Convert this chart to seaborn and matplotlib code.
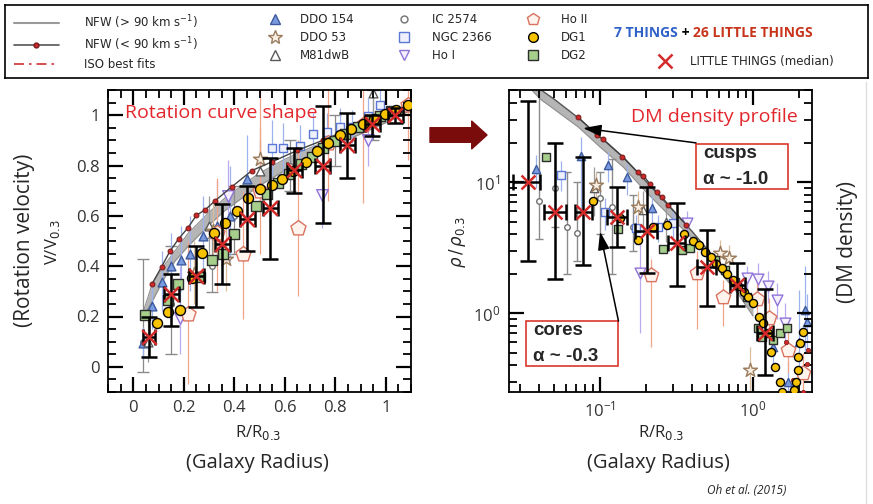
import matplotlib
matplotlib.use("Agg")
import numpy as np
import matplotlib.pyplot as plt
import matplotlib.patches as mpatches
from matplotlib.lines import Line2D
from matplotlib.ticker import MultipleLocator, LogLocator, NullFormatter, FuncFormatter
import seaborn as sns

# ---------------- left panel : rotation curves (R/R0.3, V/V0.3) ----------------
nfw_r_left = [0.04, 0.072, 0.12, 0.165, 0.217, 0.296, 0.362, 0.43, 0.5, 0.6, 0.7, 0.8, 0.9, 1.0, 1.1]
nfw_lo_left = [0.20, 0.254, 0.347, 0.42, 0.479, 0.56, 0.62, 0.67, 0.72, 0.78, 0.83, 0.88, 0.925, 0.97, 1.02]
nfw_hi_left = [0.22, 0.32, 0.40, 0.46, 0.53, 0.61, 0.67, 0.72, 0.77, 0.825, 0.87, 0.91, 0.95, 0.99, 1.04]

nfw90_r_left = [0.075, 0.112, 0.145, 0.18, 0.217, 0.25, 0.286, 0.323, 0.391, 0.47, 0.55, 0.65, 0.75, 0.87, 1.0, 1.1]
nfw90_v_left = [0.331, 0.397, 0.459, 0.509, 0.553, 0.602, 0.625, 0.659, 0.716, 0.78, 0.815, 0.86, 0.90, 0.95, 1.0, 1.035]

lt_r_left = [0.062, 0.151, 0.25, 0.352, 0.452, 0.542, 0.638, 0.75, 0.847, 0.947, 1.038]
lt_v_left = [0.118, 0.29, 0.36, 0.49, 0.588, 0.632, 0.781, 0.80, 0.88, 0.964, 1.0]
lt_lo_left = [0.041, 0.161, 0.236, 0.329, 0.459, 0.43, 0.692, 0.57, 0.752, 0.918, 0.97]
lt_hi_left = [0.198, 0.369, 0.479, 0.649, 0.72, 0.83, 0.871, 1.035, 1.01, 1.0, 1.03]
lt_rerr_left = [0.025, 0.03, 0.03, 0.03, 0.03, 0.03, 0.03, 0.03, 0.03, 0.03, 0.03]

dg1_r_left = [0.095, 0.138, 0.185, 0.233, 0.274, 0.32, 0.365, 0.411, 0.455, 0.502, 0.548, 0.59, 0.634,
              0.684, 0.726, 0.772, 0.818, 0.864, 0.908, 0.954, 0.996, 1.042, 1.088]
dg1_v_left = [0.174, 0.216, 0.224, 0.353, 0.453, 0.533, 0.572, 0.619, 0.672, 0.705, 0.722, 0.748, 0.78,
              0.814, 0.858, 0.891, 0.92, 0.947, 0.964, 0.984, 1.004, 1.021, 1.04]

dg2_r_left = [0.046, 0.136, 0.178, 0.264, 0.31, 0.356, 0.398, 0.487, 0.528, 0.575, 0.618, 0.664, 0.707,
              0.753, 0.80, 0.84, 0.889, 0.934, 0.978, 1.02]
dg2_v_left = [0.207, 0.264, 0.331, 0.357, 0.426, 0.45, 0.529, 0.641, 0.686, 0.732, 0.765, 0.805, 0.834,
              0.871, 0.898, 0.924, 0.951, 0.977, 0.997, 1.015]

ddo154_r_left = [0.04, 0.076, 0.112, 0.151, 0.191, 0.226, 0.277, 0.33, 0.383, 0.45]
ddo154_v_left = [0.094, 0.24, 0.337, 0.40, 0.426, 0.45, 0.52, 0.56, 0.60, 0.745]
ddo154_lo_left = [0.03, 0.15, 0.22, 0.27, 0.30, 0.30, 0.38, 0.42, 0.42, 0.56]
ddo154_hi_left = [0.16, 0.33, 0.46, 0.53, 0.56, 0.60, 0.68, 0.74, 0.80, 0.92]

ddo53_r_left = [0.24, 0.317, 0.367, 0.50]
ddo53_v_left = [0.37, 0.54, 0.427, 0.825]
ddo53_lo_left = [0.25, 0.42, 0.30, 0.70]
ddo53_hi_left = [0.50, 0.66, 0.56, 0.95]

m81_r_left = [0.06, 0.30, 0.50, 0.95]
m81_v_left = [0.10, 0.56, 0.78, 1.09]
m81_lo_left = [0.02, 0.45, 0.66, 0.98]
m81_hi_left = [0.20, 0.68, 0.90, 1.12]

ic2574_r_left = [0.04, 0.15, 0.31, 0.40, 0.62, 0.80, 0.95]
ic2574_v_left = [0.10, 0.25, 0.40, 0.60, 0.80, 0.90, 0.97]
ic2574_lo_left = [-0.02, 0.05, 0.297, 0.45, 0.70, 0.80, 0.90]
ic2574_hi_left = [0.43, 0.48, 0.51, 0.72, 0.90, 1.00, 1.10]

ngc2366_r_left = [0.548, 0.594, 0.66, 0.71, 0.766, 0.82, 0.868, 0.93, 0.978]
ngc2366_v_left = [0.871, 0.871, 0.878, 0.924, 0.934, 0.953, 0.953, 0.997, 1.04]
ngc2366_lo_left = [0.76, 0.77, 0.80, 0.84, 0.86, 0.88, 0.89, 0.93, 0.98]
ngc2366_hi_left = [0.98, 0.97, 0.96, 1.01, 1.01, 1.03, 1.02, 1.07, 1.10]

hoi_r_left = [0.185, 0.374, 0.746, 0.93]
hoi_v_left = [0.195, 0.679, 0.681, 0.90]
hoi_lo_left = [0.05, 0.52, 0.55, 0.80]
hoi_hi_left = [0.40, 0.82, 0.80, 0.98]

hoii_r_left = [0.218, 0.33, 0.436, 0.5, 0.654, 0.77, 0.91, 1.09]
hoii_v_left = [0.208, 0.53, 0.45, 0.70, 0.55, 0.89, 0.96, 1.04]
hoii_lo_left = [-0.07, 0.30, 0.19, 0.45, 0.28, 0.66, 0.65, 0.82]
hoii_hi_left = [0.50, 0.75, 0.70, 1.10, 0.90, 1.10, 1.10, 1.10]

# ---------------- right panel : density profiles (R/R0.3, rho/rho0.3) ----------------
nfw_r_right = [0.036, 0.0406, 0.05, 0.0723, 0.1, 0.142, 0.2, 0.3, 0.4, 0.6, 0.8, 1.0]
nfw_hi_right = [58, 51, 43, 30.8, 22.1, 15.5, 10.1, 6.07, 4.2, 2.4, 1.6, 1.1]
nfw_lo_right = [50, 43, 36, 26.2, 18.5, 13.0, 8.4, 5.2, 3.7, 2.1, 1.4, 0.95]

nfw90_r_right = [0.0714, 0.095, 0.105, 0.14, 0.176, 0.192, 0.212, 0.235, 0.253, 0.28, 0.367]
nfw90_rho_right = [31.5, 22.9, 21.2, 15.6, 11.9, 11.2, 9.66, 8.34, 7.73, 6.67, 4.7]
nfw90_tail_r = [1.64, 1.83, 2.13, 2.24, 2.29]
nfw90_tail_rho = [0.60, 0.308, 0.25, 0.41, 0.52]

lt_r_right = [0.0336, 0.0508, 0.0778, 0.1285, 0.2018, 0.317, 0.497, 0.789, 1.197]
lt_rho_right = [10.05, 5.93, 5.93, 5.43, 4.25, 3.40, 2.26, 1.64, 0.708]
lt_lo_right = [2.49, 1.82, 2.32, 3.21, 2.02, 1.61, 1.13, 1.13, 0.336]
lt_hi_right = [41.5, 19.7, 15.6, 9.2, 9.1, 6.95, 4.3, 2.4, 1.52]
lt_rmin_right = [0.0271, 0.0432, 0.0687, 0.111, 0.169, 0.278, 0.43, 0.708, 1.057]
lt_rmax_right = [0.0406, 0.0597, 0.089, 0.149, 0.235, 0.36, 0.573, 0.887, 1.36]

dg1_r_right = [0.0904, 0.136, 0.178, 0.223, 0.273, 0.356, 0.407, 0.446, 0.486, 0.529, 0.573, 0.624, 0.679,
               0.743, 0.802, 0.873, 0.932, 1.0, 1.10, 1.16, 1.25, 1.32, 1.39, 1.49, 1.54,
               1.85, 1.91, 1.98, 1.98, 2.03, 2.13]
dg1_rho_right = [7.2, 5.28, 3.61, 4.56, 4.70, 4.01, 3.56, 3.30, 2.94, 2.66, 2.39, 2.19, 1.99,
                 1.79, 1.61, 1.45, 1.32, 1.19, 0.94, 0.834, 0.70, 0.507, 0.389, 0.299, 0.251,
                 0.258, 0.299, 0.367, 0.464, 0.587, 0.72]

dg2_r_right = [0.0444, 0.132, 0.259, 0.342, 0.387, 0.565, 0.656, 0.763, 0.91, 1.08, 1.14, 1.36, 1.50, 1.66]
dg2_rho_right = [15.4, 4.35, 3.08, 3.03, 3.16, 2.54, 2.13, 1.73, 1.33, 0.764, 0.659, 0.622, 0.70, 0.764]

ddo154_r_right = [0.0382, 0.0752, 0.112, 0.149, 0.218, 1.35, 1.7, 2.0, 2.2, 2.25]
ddo154_rho_right = [12.5, 15.9, 13.5, 11.0, 6.3, 0.55, 0.30, 0.60, 1.05, 0.86]
ddo154_lo_right = [9.0, 6.0, 10.0, 8.0, 4.5, 0.40, 0.22, 0.30, 0.50, 0.50]
ddo154_hi_right = [16.0, 22.0, 17.0, 14.0, 8.0, 0.75, 0.42, 1.50, 2.30, 1.40]

ddo53_r_right = [0.0938, 0.178, 0.608, 0.70, 0.955]
ddo53_rho_right = [9.5, 6.48, 2.86, 2.62, 0.367]
ddo53_lo_right = [7.0, 4.5, 2.2, 2.0, 0.25]
ddo53_hi_right = [12.0, 8.5, 3.6, 3.3, 0.55]

m81_r_right = [0.0918, 0.19, 0.27]
m81_rho_right = [8.95, 6.1, 5.0]
m81_lo_right = [5.5, 4.0, 3.5]
m81_hi_right = [13.0, 8.5, 6.5]

ic2574_r_right = [0.0401, 0.0508, 0.0605, 0.0704, 0.1, 0.119, 0.163]
ic2574_rho_right = [7.16, 8.95, 4.56, 4.06, 7.5, 6.48, 4.56]
ic2574_lo_right = [3.7, 4.5, 2.0, 2.5, 4.0, 2.0, 3.0]
ic2574_hi_right = [50.0, 20.0, 12.0, 10.0, 12.0, 15.0, 8.0]

ngc2366_r_right = [0.0556, 0.107, 0.171, 0.24, 0.30]
ngc2366_rho_right = [11.3, 5.87, 4.43, 4.5, 4.9]
ngc2366_lo_right = [8.5, 4.3, 3.3, 3.5, 3.8]
ngc2366_hi_right = [14.5, 7.5, 5.6, 5.6, 6.0]

hoi_r_right = [0.182, 0.369, 0.91, 1.08, 1.26, 1.43, 1.62]
hoi_rho_right = [2.01, 4.89, 1.84, 1.81, 1.61, 1.26, 0.843]
hoi_lo_right = [0.7, 3.8, 1.4, 1.3, 1.2, 0.9, 0.6]
hoi_hi_right = [3.5, 6.0, 2.3, 2.4, 2.1, 1.7, 1.2]

hoii_r_right = [0.214, 0.428, 0.634, 1.057, 1.28, 1.70, 2.13]
hoii_rho_right = [1.95, 2.03, 1.33, 1.29, 0.91, 0.522, 0.347]
hoii_lo_right = [0.55, 0.75, 0.80, 0.90, 0.60, 0.35, 0.25]
hoii_hi_right = [2.6, 3.0, 1.8, 1.7, 1.3, 0.75, 0.5]

# ---------------- styling ----------------
sns.set_style("ticks")
plt.rcParams['font.family'] = ['Open Sans', 'DejaVu Sans']
plt.rcParams['mathtext.fontset'] = 'dejavusans'
plt.rcParams['axes.axisbelow'] = False

RED = '#d42a2a'
C_DDO154 = ('#7a9be0', '#3d5a9e', '#9db3ee')
C_DDO53 = ('#f8eee2', '#9a7b5c', '#dcbc9c')
C_M81 = ('white', '#5a5a5a', '#9a9a9a')
C_IC = ('white', '#707070', '#8a8a8a')
C_NGC = ('#eef1fb', '#5b78d6', '#9db3ee')
C_HOI = ('#f4f0fd', '#8f74d8', '#bba9f0')
C_HOII = ('#fff3ee', '#d9735f', '#f2a488')
C_DG1 = '#f7c200'
C_DG2 = '#a6cf8c'


def galaxy(ax, r, v, lo, hi, marker, s, cols, z=3, lw=0.9, cap=0):
    r, v, lo, hi = map(np.asarray, (r, v, lo, hi))
    ax.errorbar(r, v, yerr=[v - lo, hi - v], fmt='none', ecolor=cols[2], elinewidth=lw,
                capsize=cap, zorder=z - 0.5)
    sns.scatterplot(x=r, y=v, marker=marker, s=s, color=cols[0], edgecolor=cols[1],
                    linewidth=1.0, ax=ax, zorder=z, legend=False)


fig = plt.figure(figsize=(8.73, 5.04), dpi=100)
axL = fig.add_axes([108 / 873, 1 - 392 / 504, 303 / 873, 302 / 504])
axR = fig.add_axes([509 / 873, 1 - 392 / 504, 303 / 873, 302 / 504])
axR.set_xscale('log')
axR.set_yscale('log')

# ---- left panel ----
ax = axL
ax.fill_between(nfw_r_left, nfw_lo_left, nfw_hi_left, color='#b5b5b5', lw=0, zorder=1)
sns.lineplot(x=nfw_r_left, y=nfw_lo_left, color='#8e8e8e', lw=0.8, ax=ax, zorder=1.1, estimator=None, sort=False)
sns.lineplot(x=nfw_r_left, y=nfw_hi_left, color='#8e8e8e', lw=0.8, ax=ax, zorder=1.1, estimator=None, sort=False)
galaxy(ax, ic2574_r_left, ic2574_v_left, ic2574_lo_left, ic2574_hi_left, 'o', 16, C_IC, z=2, cap=4)
galaxy(ax, ddo154_r_left, ddo154_v_left, ddo154_lo_left, ddo154_hi_left, '^', 40, C_DDO154, z=2.2)
galaxy(ax, m81_r_left, m81_v_left, m81_lo_left, m81_hi_left, '^', 40, C_M81, z=2.2)
galaxy(ax, ngc2366_r_left, ngc2366_v_left, ngc2366_lo_left, ngc2366_hi_left, 's', 40, C_NGC, z=2.2)
galaxy(ax, ddo53_r_left, ddo53_v_left, ddo53_lo_left, ddo53_hi_left, '*', 110, C_DDO53, z=2.3)
galaxy(ax, hoi_r_left, hoi_v_left, hoi_lo_left, hoi_hi_left, 'v', 70, C_HOI, z=2.3)
galaxy(ax, hoii_r_left, hoii_v_left, hoii_lo_left, hoii_hi_left, 'p', 130, C_HOII, z=2.4)
sns.lineplot(x=nfw90_r_left, y=nfw90_v_left, color='#444444', lw=1.0, marker='o', markersize=3.5,
             markerfacecolor='#cc2a2a', markeredgecolor='#7a1a1a', ax=ax, zorder=3, estimator=None, sort=False)
sns.scatterplot(x=dg2_r_left, y=dg2_v_left, marker='s', s=50, color=C_DG2, edgecolor='#2d2d2d',
                linewidth=1.0, ax=ax, zorder=4, legend=False)
sns.scatterplot(x=dg1_r_left, y=dg1_v_left, marker='o', s=52, color=C_DG1, edgecolor='black',
                linewidth=1.0, ax=ax, zorder=4.2, legend=False)
v = np.asarray(lt_v_left)
ax.errorbar(lt_r_left, v, yerr=[v - np.asarray(lt_lo_left), np.asarray(lt_hi_left) - v], xerr=lt_rerr_left,
            fmt='none', ecolor='black', elinewidth=1.8, capsize=6, capthick=1.8, zorder=5)
sns.scatterplot(x=lt_r_left, y=lt_v_left, marker='x', s=110, color=RED, linewidth=1.8, ax=ax, zorder=6,
                legend=False)
ax.set_xlim(-0.1, 1.1)
ax.set_ylim(-0.1, 1.1)
ax.xaxis.set_major_locator(MultipleLocator(0.2))
ax.xaxis.set_minor_locator(MultipleLocator(0.05))
ax.yaxis.set_major_locator(MultipleLocator(0.2))
ax.yaxis.set_minor_locator(MultipleLocator(0.05))
fmt = FuncFormatter(lambda val, pos: f"{val:.1f}".rstrip('0').rstrip('.') if abs(val) > 1e-9 else "0")
ax.xaxis.set_major_formatter(fmt)
ax.yaxis.set_major_formatter(fmt)
ax.text(0.056, 0.924, "Rotation curve shape", transform=ax.transAxes, color='#e3262b', fontsize=14,
        ha='left', va='center', zorder=7)

# ---- right panel ----
ax = axR
ax.fill_between(nfw_r_right, nfw_lo_right, nfw_hi_right, color='#b5b5b5', lw=0, zorder=1)
sns.lineplot(x=nfw_r_right, y=nfw_lo_right, color='#8e8e8e', lw=0.8, ax=ax, zorder=1.1, estimator=None, sort=False)
sns.lineplot(x=nfw_r_right, y=nfw_hi_right, color='#555555', lw=1.0, ax=ax, zorder=1.1, estimator=None, sort=False)
galaxy(ax, ic2574_r_right, ic2574_rho_right, ic2574_lo_right, ic2574_hi_right, 'o', 16, C_IC, z=2, lw=1.0, cap=3)
galaxy(ax, ddo154_r_right, ddo154_rho_right, ddo154_lo_right, ddo154_hi_right, '^', 35, C_DDO154, z=2.2)
galaxy(ax, m81_r_right, m81_rho_right, m81_lo_right, m81_hi_right, '^', 35, C_M81, z=2.2)
galaxy(ax, ngc2366_r_right, ngc2366_rho_right, ngc2366_lo_right, ngc2366_hi_right, 's', 35, C_NGC, z=2.2)
galaxy(ax, ddo53_r_right, ddo53_rho_right, ddo53_lo_right, ddo53_hi_right, '*', 110, C_DDO53, z=2.3)
galaxy(ax, hoi_r_right, hoi_rho_right, hoi_lo_right, hoi_hi_right, 'v', 60, C_HOI, z=2.3)
galaxy(ax, hoii_r_right, hoii_rho_right, hoii_lo_right, hoii_hi_right, 'p', 120, C_HOII, z=2.4)
sns.lineplot(x=nfw90_r_right, y=nfw90_rho_right, color='#444444', lw=1.0, marker='o', markersize=3.5,
             markerfacecolor='#cc2a2a', markeredgecolor='#7a1a1a', ax=ax, zorder=3, estimator=None, sort=False)
sns.scatterplot(x=nfw90_tail_r, y=nfw90_tail_rho, marker='o', s=10, color='#cc2a2a', edgecolor='#7a1a1a',
                linewidth=0.5, ax=ax, zorder=3, legend=False)
sns.scatterplot(x=dg2_r_right, y=dg2_rho_right, marker='s', s=40, color=C_DG2, edgecolor='#2d2d2d',
                linewidth=1.0, ax=ax, zorder=4, legend=False)
sns.scatterplot(x=dg1_r_right, y=dg1_rho_right, marker='o', s=34, color=C_DG1, edgecolor='black',
                linewidth=1.0, ax=ax, zorder=4.2, legend=False)
rho = np.asarray(lt_rho_right)
rr = np.asarray(lt_r_right)
ax.errorbar(rr, rho, yerr=[rho - np.asarray(lt_lo_right), np.asarray(lt_hi_right) - rho],
            xerr=[rr - np.asarray(lt_rmin_right), np.asarray(lt_rmax_right) - rr],
            fmt='none', ecolor='black', elinewidth=1.8, capsize=6, capthick=1.8, zorder=5)
sns.scatterplot(x=lt_r_right, y=lt_rho_right, marker='x', s=100, color=RED, linewidth=1.8, ax=ax, zorder=6,
                legend=False)
ax.set_xlim(0.0254, 2.43)
ax.set_ylim(0.25, 50.4)
ax.xaxis.set_major_locator(LogLocator(base=10, numticks=10))
ax.xaxis.set_minor_locator(LogLocator(base=10, subs=np.arange(2, 10), numticks=20))
ax.yaxis.set_major_locator(LogLocator(base=10, numticks=10))
ax.yaxis.set_minor_locator(LogLocator(base=10, subs=np.arange(2, 10), numticks=20))
ax.xaxis.set_minor_formatter(NullFormatter())
ax.yaxis.set_minor_formatter(NullFormatter())
ax.text(0.954, 0.911, "DM density profile", transform=ax.transAxes, color='#e3262b', fontsize=14,
        ha='right', va='center', zorder=7)

# boxes with cusp / core labels
for (bx, by, t1, t2, ty1, ty2, tx) in [(0.617, 0.672, "cusps", "α ~ -1.0", 0.791, 0.702, 0.640),
                                        (0.056, 0.086, "cores", "α ~ -0.3", 0.202, 0.116, 0.079)]:
    ax.add_patch(mpatches.Rectangle((bx, by), 0.304, 0.149, transform=ax.transAxes, fc='white',
                                    ec='#d9362a', lw=1.2, zorder=8))
    for txt, ty in ((t1, ty1), (t2, ty2)):
        ax.text(tx, ty, txt, transform=ax.transAxes, fontsize=13.5, fontweight='bold',
                family=['Liberation Sans', 'DejaVu Sans'], ha='left', va='center', zorder=9)
arrow_kw = dict(arrowstyle='-|>,head_length=1.1,head_width=0.35', color='black', lw=1.1,
                shrinkA=0, shrinkB=0, mutation_scale=10)
ax.annotate("", xy=(0.0774, 25.8), xytext=(0.424, 19.9), arrowprops=arrow_kw, zorder=8)
ax.annotate("", xy=(0.1, 4.18), xytext=(0.132, 0.869), arrowprops=arrow_kw, zorder=8)

# ---- shared tick styling (inward ticks on all four sides) ----
for ax in (axL, axR):
    ax.set_axisbelow(False)
    ax.tick_params(axis='both', which='both', direction='in', bottom=True, left=True, top=True, right=True,
                   color='black')
    ax.tick_params(axis='both', which='major', length=11, width=1.6, pad=6, labelsize=12,
                   labelcolor='#333333')
    ax.tick_params(axis='both', which='minor', length=5.5, width=1.3)
    for sp in ax.spines.values():
        sp.set_linewidth(1.3)
        sp.set_color('black')
    ax.set_xlabel("")
    ax.set_ylabel("")

# ---- axis labels ----
fig.text(53 / 873, 1 - 242 / 504, r"V/V$_{0.3}$", rotation=90, ha='center', va='center', fontsize=12)
fig.text(25 / 873, 1 - 240 / 504, "(Rotation velocity)", rotation=90, ha='center', va='center', fontsize=15)
fig.text(258 / 873, 1 - 432 / 504, r"R/R$_{0.3}$", ha='center', va='center', fontsize=12)
fig.text(257 / 873, 1 - 463 / 504, "(Galaxy Radius)", ha='center', va='center', fontsize=14.5)
fig.text(661 / 873, 1 - 432 / 504, r"R/R$_{0.3}$", ha='center', va='center', fontsize=12)
fig.text(658 / 873, 1 - 463 / 504, "(Galaxy Radius)", ha='center', va='center', fontsize=14.5)
fig.text(458 / 873, 1 - 242 / 504, r"$\rho\,/\,\rho_{0.3}$", rotation=90, ha='center', va='center', fontsize=12)
fig.text(848 / 873, 1 - 242 / 504, "(DM density)", rotation=90, ha='center', va='center', fontsize=15)
fig.text(747 / 873, 1 - 490 / 504, "Oh et al. (2015)", ha='center', va='center', fontsize=8.5, style='italic')

# faint slide border on the right
fig.add_artist(Line2D([866 / 873, 866 / 873], [0, 1 - 82 / 504], transform=fig.transFigure,
                      color='#dedede', lw=1.0))

# big arrow between the panels
fig.add_artist(mpatches.FancyArrowPatch((430 / 873, 1 - 135 / 504), (487 / 873, 1 - 135 / 504),
                                        transform=fig.transFigure,
                                        arrowstyle=mpatches.ArrowStyle.Simple(head_length=11, head_width=20,
                                                                              tail_width=10.5),
                                        mutation_scale=1, color='#7b0c0c', shrinkA=0, shrinkB=0))

# ---- legend box ----
lax = fig.add_axes([5 / 873, 1 - 78 / 504, 863 / 873, 73 / 504])
lax.set_xticks([])
lax.set_yticks([])
for sp in lax.spines.values():
    sp.set_linewidth(1.2)
    sp.set_color('black')


def mk(marker, face, edge, ms=7):
    return Line2D([], [], ls='none', marker=marker, ms=ms, mfc=face, mec=edge, mew=1.0)


leg_cols = [
    ([Line2D([], [], color='#9a9a9a', lw=1.5),
      Line2D([], [], color='#555555', lw=1.2, marker='o', ms=3.5, mfc='#cc2a2a', mec='#7a1a1a'),
      Line2D([], [], color='#d03030', lw=1.2, dashes=(6, 3, 1.5, 3))],
     ["NFW (> 90 km s$^{-1}$)", "NFW (< 90 km s$^{-1}$)", "ISO best fits"], 14, 13, 3.8, 2.1),
    ([mk('^', C_DDO154[0], C_DDO154[1]), mk('*', C_DDO53[0], C_DDO53[1], 10), mk('^', 'white', C_M81[1])],
     ["DDO 154", "DDO 53", "M81dwB"], 268, 13, 1.2, 1.5),
    ([mk('o', 'white', C_IC[1], 5), mk('s', C_NGC[0], C_NGC[1]), mk('v', C_HOI[0], C_HOI[1])],
     ["IC 2574", "NGC 2366", "Ho I"], 397, 13, 1.2, 1.75),
    ([mk('p', C_HOII[0], C_HOII[1], 9), mk('o', C_DG1, 'black'), mk('s', C_DG2, '#2d2d2d')],
     ["Ho II", "DG1", "DG2"], 526, 13, 1.2, 1.75),
    ([Line2D([], [], ls='none', marker='x', ms=10, mew=1.8, color=RED)],
     ["LITTLE THINGS (median)"], 658, 55, 1.2, 1.5),
]
for handles, labels, x0, y0, hl, hp in leg_cols:
    fig.legend(handles, labels, loc='upper left', bbox_to_anchor=(x0 / 873, 1 - y0 / 504), frameon=False,
               prop={'family': 'DejaVu Sans', 'size': 8.5}, labelspacing=0.42, handlelength=hl,
               handletextpad=hp, borderpad=0, borderaxespad=0)

t1 = lax.text(614 / 873, 1 - 33 / 504, "7 THINGS", transform=fig.transFigure, color='#2f62c8',
              fontweight='bold', fontsize=10, ha='left', va='center')
t2 = lax.annotate(" + ", xy=(1, 0.5), xycoords=t1, fontweight='bold', fontsize=10, ha='left', va='center',
                  color='black')
lax.annotate("26 LITTLE THINGS", xy=(1, 0.5), xycoords=t2, fontweight='bold', fontsize=10, ha='left',
             va='center', color='#c8341a')

fig.savefig("out.png", dpi=100)
